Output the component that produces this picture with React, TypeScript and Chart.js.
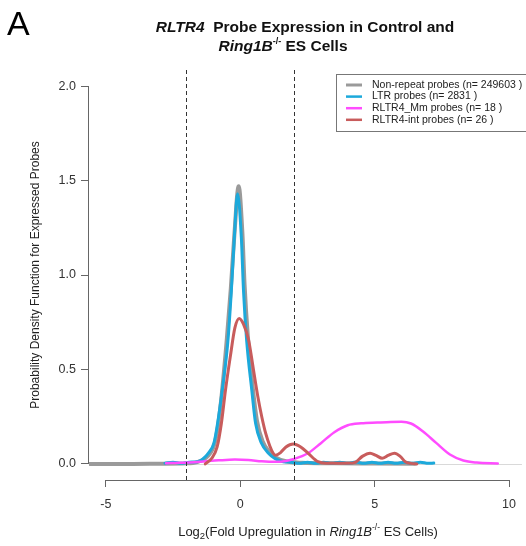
import React, { useEffect, useRef } from "react";
import { Chart, registerables } from "chart.js";

Chart.register(...registerables);

// ---------- data ----------
const seriesNames = ["Non-repeat probes", "LTR probes", "RLTR4_Mm probes", "RLTR4-int probes"];
const seriesCounts = [249603, 2831, 18, 26];
const seriesColors = ["#9a9a9a", "#1ca9db", "#ff4cff", "#c85c5c"];
const seriesWidths = [4, 3, 2.5, 3];

const nonRepeatX = [-5.6, -4.0, -3.0, -2.0, -1.6, -1.3, -1.1, -0.95, -0.82, -0.68, -0.5, -0.35, -0.22, -0.06, 0.08, 0.16, 0.28, 0.46, 0.62, 0.83, 1.08, 1.35, 1.7, 2.3, 3.5, 5.0, 6.5];
const nonRepeatY = [0, 0, 0.001, 0.003, 0.01, 0.03, 0.06, 0.11, 0.21, 0.38, 0.66, 0.93, 1.21, 1.47, 1.22, 0.95, 0.68, 0.41, 0.23, 0.12, 0.065, 0.032, 0.014, 0.006, 0.003, 0.002, 0.001];

const ltrX = [-2.8, -2.5, -2.2, -1.9, -1.6, -1.4, -1.17, -0.98, -0.86, -0.68, -0.46, -0.33, -0.22, -0.1, 0.04, 0.12, 0.24, 0.43, 0.57, 0.79, 1.04, 1.3, 1.6, 1.9, 2.2, 2.5, 2.8, 3.1, 3.4, 3.7, 4.0, 4.3, 4.6, 4.9, 5.2, 5.5, 5.8, 6.1, 6.4, 6.7, 7.0, 7.2];
const ltrY = [0.004, 0.009, 0.003, 0.009, 0.012, 0.025, 0.06, 0.11, 0.2, 0.38, 0.65, 0.92, 1.2, 1.43, 1.2, 0.92, 0.65, 0.39, 0.215, 0.11, 0.058, 0.028, 0.012, 0.009, 0.003, 0.009, 0.003, 0.009, 0.003, 0.009, 0.003, 0.01, 0.003, 0.009, 0.003, 0.009, 0.003, 0.009, 0.003, 0.009, 0.003, 0.005];

const mmX = [-2.76, -2.27, -1.5, -0.8, -0.2, 0.3, 0.8, 1.3, 1.7, 2.0, 2.5, 3.0, 3.5, 4.0, 4.5, 5.1, 5.6, 6.0, 6.35, 6.8, 7.3, 7.8, 8.3, 8.8, 9.58];
const mmY = [0.004, 0.006, 0.012, 0.019, 0.023, 0.021, 0.014, 0.011, 0.016, 0.026, 0.055, 0.11, 0.168, 0.205, 0.215, 0.219, 0.222, 0.223, 0.214, 0.172, 0.11, 0.05, 0.018, 0.007, 0.002];

const intX = [-1.3, -1.06, -0.86, -0.7, -0.55, -0.37, -0.2, -0.04, 0.12, 0.31, 0.49, 0.65, 0.8, 0.95, 1.1, 1.22, 1.31, 1.5, 1.7, 1.97, 2.25, 2.52, 2.89, 3.25, 4.0, 4.3, 4.54, 4.83, 5.05, 5.28, 5.5, 5.74, 5.95, 6.14, 6.35, 6.57];
const intY = [0, 0.03, 0.09, 0.217, 0.39, 0.568, 0.72, 0.77, 0.74, 0.656, 0.5, 0.36, 0.25, 0.16, 0.095, 0.058, 0.046, 0.06, 0.09, 0.106, 0.09, 0.057, 0.012, 0.004, 0.003, 0.01, 0.04, 0.057, 0.045, 0.03, 0.045, 0.057, 0.04, 0.012, 0.003, 0];

const seriesX = [nonRepeatX, ltrX, mmX, intX];
const seriesY = [nonRepeatY, ltrY, mmY, intY];

const xTicks = [-5, 0, 5, 10];
const yTicks = [0, 0.5, 1.0, 1.5, 2.0];
const thresholds = [-2, 2];

const FONT = '"Liberation Sans", Arial, Helvetica, sans-serif';

type Run = { text: string; font: string; dy?: number };

function drawRuns(ctx: CanvasRenderingContext2D, runs: Run[], cx: number, baseline: number) {
  let total = 0;
  for (const r of runs) {
    ctx.font = r.font;
    total += ctx.measureText(r.text).width;
  }
  let x = cx - total / 2;
  ctx.textAlign = "left";
  ctx.textBaseline = "alphabetic";
  for (const r of runs) {
    ctx.font = r.font;
    ctx.fillText(r.text, x, baseline + (r.dy || 0));
    x += ctx.measureText(r.text).width;
  }
}

const decorPlugin = {
  id: "decor",
  beforeDatasetsDraw(chart: any) {
    const { ctx, chartArea, scales } = chart;
    const y0 = Math.round(scales.y.getPixelForValue(0)) + 0.5;
    ctx.save();
    ctx.strokeStyle = "#d9d9d9";
    ctx.lineWidth = 1;
    ctx.beginPath();
    ctx.moveTo(chartArea.left, y0);
    ctx.lineTo(chartArea.right, y0);
    ctx.stroke();
    ctx.restore();
  },
  afterDraw(chart: any) {
    const { ctx, chartArea, scales } = chart;
    const xs = scales.x;
    const ys = scales.y;
    ctx.save();
    // threshold dashed lines
    ctx.strokeStyle = "#333";
    ctx.lineWidth = 1;
    ctx.setLineDash([4, 3]);
    for (const t of thresholds) {
      const px = Math.round(xs.getPixelForValue(t)) + 0.5;
      ctx.beginPath();
      ctx.moveTo(px, chartArea.top);
      ctx.lineTo(px, chartArea.bottom);
      ctx.stroke();
    }
    ctx.setLineDash([]);
    // axis lines (R style: from first to last tick)
    ctx.strokeStyle = "#666";
    const yb = Math.round(chartArea.bottom) + 0.5;
    ctx.beginPath();
    ctx.moveTo(xs.getPixelForValue(xTicks[0]), yb);
    ctx.lineTo(xs.getPixelForValue(xTicks[xTicks.length - 1]), yb);
    ctx.stroke();
    const xl = Math.round(chartArea.left) - 0.5;
    ctx.beginPath();
    ctx.moveTo(xl, ys.getPixelForValue(yTicks[0]));
    ctx.lineTo(xl, ys.getPixelForValue(yTicks[yTicks.length - 1]));
    ctx.stroke();

    // legend
    const lx = 336, ly = 74, lw = 192, lh = 57;
    ctx.fillStyle = "#fff";
    ctx.fillRect(lx, ly, lw, lh);
    ctx.strokeStyle = "#777";
    ctx.lineWidth = 1;
    ctx.strokeRect(lx + 0.5, ly + 0.5, lw, lh);
    ctx.font = `10.5px ${FONT}`;
    ctx.textBaseline = "middle";
    ctx.textAlign = "left";
    chart.data.datasets.forEach((ds: any, i: number) => {
      const ry = ly + 11 + i * 11.6;
      ctx.strokeStyle = ds.borderColor;
      ctx.lineWidth = i === 0 ? 3 : 2.5;
      ctx.beginPath();
      ctx.moveTo(346, ry);
      ctx.lineTo(362, ry);
      ctx.stroke();
      ctx.fillStyle = "#222";
      ctx.fillText(ds.label, 372, ry);
    });

    // title
    ctx.fillStyle = "#111";
    drawRuns(ctx, [
      { text: "RLTR4", font: `italic bold 15.5px ${FONT}` },
      { text: "  Probe Expression in Control and", font: `bold 15.5px ${FONT}` },
    ], 305, 32);
    drawRuns(ctx, [
      { text: "Ring1B", font: `italic bold 15.5px ${FONT}` },
      { text: "-/-", font: `bold 9px ${FONT}`, dy: -7 },
      { text: " ES Cells", font: `bold 15.5px ${FONT}` },
    ], 283, 51);

    // panel letter
    ctx.font = `34px ${FONT}`;
    ctx.fillStyle = "#000";
    ctx.fillText("A", 7, 35);

    // x title
    ctx.fillStyle = "#222";
    drawRuns(ctx, [
      { text: "Log", font: `13px ${FONT}` },
      { text: "2", font: `9.5px ${FONT}`, dy: 3 },
      { text: "(Fold Upregulation in ", font: `13px ${FONT}` },
      { text: "Ring1B", font: `italic 13px ${FONT}` },
      { text: "-/-", font: `8.5px ${FONT}`, dy: -6 },
      { text: " ES Cells)", font: `13px ${FONT}` },
    ], 308, 536);

    // y title
    ctx.save();
    ctx.translate(39, (ys.getPixelForValue(0) + ys.getPixelForValue(2)) / 2);
    ctx.rotate(-Math.PI / 2);
    ctx.font = `12px ${FONT}`;
    ctx.textAlign = "center";
    ctx.textBaseline = "alphabetic";
    ctx.fillText("Probability Density Function for Expressed Probes", 0, 0);
    ctx.restore();

    ctx.restore();
  },
};

export default function App() {
  const ref = useRef<HTMLCanvasElement | null>(null);
  useEffect(() => {
    if (!ref.current) return;
    const datasets = seriesNames.map((name, i) => ({
      label: `${name} (n= ${seriesCounts[i]} )`,
      data: seriesX[i].map((x, j) => ({ x, y: seriesY[i][j] })),
      borderColor: seriesColors[i],
      backgroundColor: seriesColors[i],
      borderWidth: seriesWidths[i],
      pointRadius: 0,
      fill: false,
      cubicInterpolationMode: "monotone" as const,
      order: 4 - i,
      borderJoinStyle: "round" as const,
      borderCapStyle: "round" as const,
    }));
    const chart = new Chart(ref.current, {
      type: "line",
      data: { datasets },
      options: {
        animation: false,
        responsive: false,
        devicePixelRatio: 1,
        layout: { padding: { top: 70, left: 0, right: 0, bottom: 0 } },
        plugins: { legend: { display: false }, title: { display: false }, tooltip: { enabled: false } },
        scales: {
          x: {
            type: "linear",
            min: -5.627,
            max: 10.48,
            afterBuildTicks: (s: any) => { s.ticks = xTicks.map((v) => ({ value: v })); },
            afterFit: (s: any) => { s.height = 66; },
            border: { display: false },
            grid: { drawOnChartArea: false, drawTicks: true, tickLength: 7, color: "#666", tickColor: "#666" },
            ticks: {
              autoSkip: false, maxRotation: 0, minRotation: 0, padding: 10,
              color: "#333", font: { family: FONT, size: 12.5 },
              callback: (v: any) => String(v),
            },
          },
          y: {
            type: "linear",
            min: -0.085,
            max: 2.085,
            afterBuildTicks: (s: any) => { s.ticks = yTicks.map((v) => ({ value: v })); },
            afterFit: (s: any) => { s.width = 89; },
            border: { display: false },
            grid: { drawOnChartArea: false, drawTicks: true, tickLength: 8, color: "#666", tickColor: "#666" },
            ticks: {
              padding: 5, color: "#333", font: { family: FONT, size: 12.5 },
              callback: (v: any) => Number(v).toFixed(1),
            },
          },
        },
      },
      plugins: [decorPlugin],
    });
    return () => chart.destroy();
  }, []);
  return (
    <div style={{ position: "absolute", left: 0, top: 0, width: 526, height: 546, background: "#fff" }}>
      <canvas ref={ref} width={526} height={546} style={{ width: 526, height: 546, display: "block" }} />
    </div>
  );
}
